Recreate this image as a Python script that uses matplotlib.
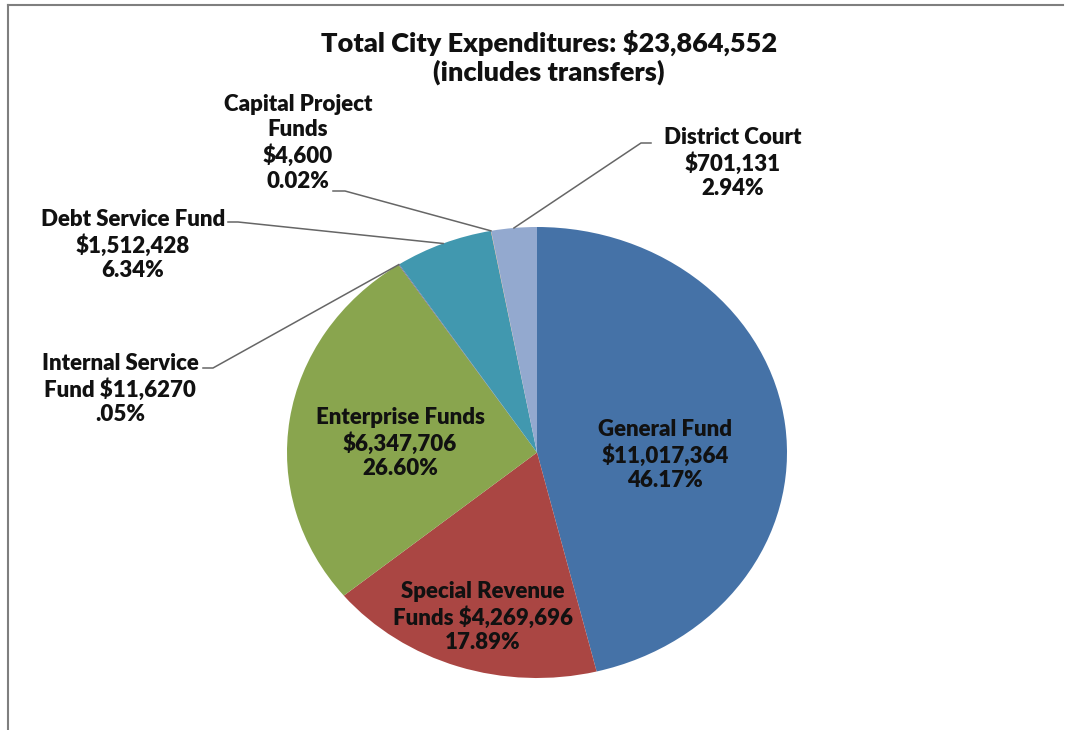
import numpy as np
import matplotlib.pyplot as plt
from matplotlib.lines import Line2D

# slice data, clockwise from 12 o'clock
funds = ["General Fund", "Special Revenue Funds", "Enterprise Funds",
         "Internal Service Fund", "Debt Service Fund",
         "Capital Project Funds", "District Court"]
amounts = [11017364, 4269696, 6347706, 11627, 1512428, 4600, 701131]
labels = ["General Fund\n$11,017,364\n46.17%",
          "Special Revenue\nFunds $4,269,696\n17.89%",
          "Enterprise Funds\n$6,347,706\n26.60%",
          "Internal Service\nFund $11,6270\n.05%",
          "Debt Service Fund\n$1,512,428\n6.34%",
          "Capital Project\nFunds\n$4,600\n0.02%",
          "District Court\n$701,131\n2.94%"]
colors = ["#4572A7", "#AA4643", "#89A54E", "#71588F", "#4198AF", "#DB843D", "#93A9CF"]

W, H = 1065, 730
fig = plt.figure(figsize=(W / 100, H / 100), dpi=100)
plt.rcParams['font.family'] = ['Lato', 'DejaVu Sans']

# pie sits in a stretched box (ellipse like the Excel original)
ax = fig.add_axes([287 / W, (H - 678) / H, 500 / W, 451 / H])
wedges, _ = ax.pie(amounts, colors=colors, startangle=90, counterclock=False,
                   radius=1, wedgeprops=dict(linewidth=0))
ax.set_aspect('auto')
ax.set_xlim(-1, 1)
ax.set_ylim(-1, 1)
ax.axis('off')

def px(x, y):
    return x / W, (H - y) / H

txt = dict(ha='center', va='center', fontsize=16, fontweight='heavy',
           color='#111111', linespacing=1.22)

# title
fig.text(*px(549, 57), "Total City Expenditures: $23,864,552\n(includes transfers)",
         ha='center', va='center', fontsize=19.5, fontweight='heavy',
         color='#111111', linespacing=1.17)

# label positions (center of text block, pixels from top-left)
label_pos = [(665, 455), (483, 617), (400, 443), (120, 389), (133, 245),
             (298, 143), (733, 163)]
for lab, (x, y) in zip(labels, label_pos):
    fig.text(*px(x, y), lab, **txt)

# leader lines for the outside labels: stub start, elbow, then wedge edge
leaders = {3: ((203, 368), (213, 368)),
           4: ((228, 222), (238, 222)),
           5: ((333, 191), (345, 191)),
           6: ((651, 143), (641, 143))}
for i, (p0, p1) in leaders.items():
    w = wedges[i]
    ang = np.deg2rad((w.theta1 + w.theta2) / 2)
    ex, ey = ax.transData.transform((np.cos(ang), np.sin(ang)))
    xs = [p0[0] / W, p1[0] / W, ex / W]
    ys = [(H - p0[1]) / H, (H - p1[1]) / H, ey / H]
    fig.add_artist(Line2D(xs, ys, transform=fig.transFigure, color='#666666', lw=1.1))

# chart frame: top and left edges only
fig.add_artist(Line2D([8 / W, 1063 / W], [(H - 5) / H, (H - 5) / H],
                      transform=fig.transFigure, color='#7f7f7f', lw=1.5))
fig.add_artist(Line2D([8 / W, 8 / W], [(H - 5) / H, 0],
                      transform=fig.transFigure, color='#7f7f7f', lw=1.5))

fig.savefig("out.png", dpi=100)
